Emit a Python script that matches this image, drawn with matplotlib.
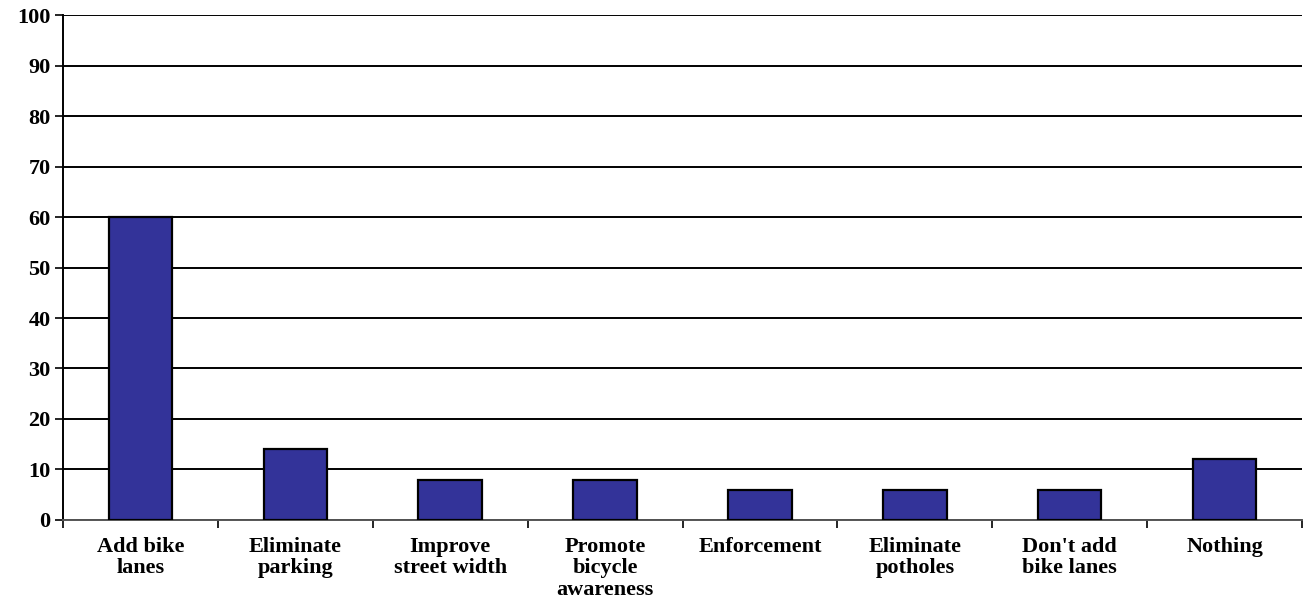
import numpy as np
import matplotlib.pyplot as plt

categories = [
    "Add bike\nlanes",
    "Eliminate\nparking",
    "Improve\nstreet width",
    "Promote\nbicycle\nawareness",
    "Enforcement",
    "Eliminate\npotholes",
    "Don't add\nbike lanes",
    "Nothing",
]
values = [60, 14, 8, 8, 6, 6, 6, 12]
y_ticks = list(range(0, 101, 10))

plt.rcParams["font.family"] = "Liberation Serif"
plt.rcParams["font.weight"] = "bold"
plt.rcParams["font.size"] = 16

fig = plt.figure(figsize=(13.07, 6.05), dpi=100)
ax = fig.add_axes([0.0482, 0.1405, 0.948, 0.8347])

x = np.arange(len(categories))
ax.bar(x, values, width=0.41, color="#333399", edgecolor="black",
       linewidth=1.6, zorder=3)

ax.set_xlim(-0.5, len(categories) - 0.5)
ax.set_ylim(0, 100)
ax.set_yticks(y_ticks)
ax.yaxis.grid(True, color="black", linewidth=1.4, zorder=0)

# category labels in the middle, tick marks on the boundaries
ax.set_xticks(x)
ax.set_xticklabels(categories, fontweight="bold", linespacing=1.12, va="top")
ax.tick_params(axis="x", which="major", length=0, pad=12)
ax.set_xticks(np.arange(-0.5, len(categories), 1), minor=True)
ax.tick_params(axis="x", which="minor", length=6, width=1.2, direction="out")
ax.tick_params(axis="y", length=6, width=1.2, direction="out", pad=3)

for side in ["top", "right"]:
    ax.spines[side].set_visible(False)
ax.spines["left"].set_linewidth(1.4)
ax.spines["bottom"].set_linewidth(1.4)
ax.spines["bottom"].set_color("#555555")

fig.savefig("out.png", dpi=100)
